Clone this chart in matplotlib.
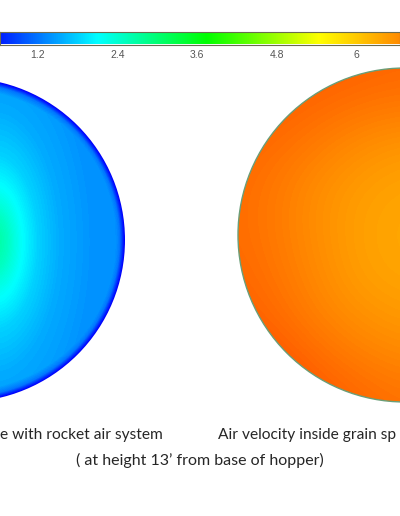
import numpy as np
import matplotlib
matplotlib.use("Agg")
import matplotlib.pyplot as plt
from matplotlib.colors import LinearSegmentedColormap, Normalize
from matplotlib.patches import Circle

# ---- data ----
cmap_vals = [0.0, 0.42, 2.09, 3.74, 5.44, 6.65, 8.0]
cmap_cols = ['#0000a0', '#0000ff', '#00ffff', '#00ff00', '#ffff00', '#ff8c00', '#ff0000']
cbar_ticks = [1.2, 2.4, 3.6, 4.8, 6.0]
cbar_labels = ['1.2', '2.4', '3.6', '4.8', '6']
cbar_view = (0.63, 6.65)

# left plane (rocket air system): glow profile vs elliptical distance from peak
left_glow_d = [0.0, 0.3, 0.6, 1.0, 1.5, 2.2, 4.0]
left_glow_v = [2.75, 2.5, 2.15, 1.8, 1.55, 1.4, 1.32]
left_rim_r = [0.0, 0.968, 0.988, 1.0]
left_rim_v = [9.0, 1.2, 0.65, 0.35]

# right plane: coarse grid of velocities (rows top->bottom, cols left->right)
right_grid = np.array([
    [7.10, 7.10, 7.10, 7.05, 7.00],
    [7.10, 7.05, 6.95, 6.85, 6.80],
    [7.00, 6.90, 6.75, 6.60, 6.50],
    [6.95, 6.80, 6.60, 6.45, 6.38],
    [6.95, 6.80, 6.60, 6.42, 6.35],
    [7.00, 6.85, 6.65, 6.45, 6.38],
    [7.10, 6.95, 6.75, 6.60, 6.50],
    [7.25, 7.15, 6.95, 6.80, 6.70],
    [7.30, 7.30, 7.15, 7.00, 6.90],
])

title_left = "e with rocket air system"
title_right = "Air velocity inside grain sp"
subtitle = "( at height 13\u2019 from base of hopper)"

# ---- figure ----
W, H = 400, 516
fig = plt.figure(figsize=(W / 100, H / 100), dpi=100)
ax = fig.add_axes([0, 0, 1, 1])
ax.set_xlim(0, W)
ax.set_ylim(H, 0)
ax.axis('off')

vmin, vmax = cmap_vals[0], cmap_vals[-1]
cmap = LinearSegmentedColormap.from_list(
    'fluent', [((v - vmin) / (vmax - vmin), c) for v, c in zip(cmap_vals, cmap_cols)])
norm = Normalize(vmin, vmax)

# left circle
lcx, lcy, lR = -37.0, 240.0, 162.0
px, py = -6.0, 242.0
xs = np.arange(0, 140) + 0.5
ys = np.arange(70, 410) + 0.5
X, Y = np.meshgrid(xs, ys)
dp = np.sqrt(((X - px) / 44.0) ** 2 + ((Y - py) / 88.0) ** 2)
V = np.interp(dp, left_glow_d, left_glow_v)
r = np.sqrt((X - lcx) ** 2 + (Y - lcy) ** 2) / lR
V = np.minimum(V, np.interp(r, left_rim_r, left_rim_v))
im1 = ax.imshow(V, extent=[0, 140, 410, 70], cmap=cmap, norm=norm,
                interpolation='bilinear', zorder=1)
c1 = Circle((lcx, lcy), lR, transform=ax.transData, facecolor='none', edgecolor='none')
ax.add_patch(c1)
im1.set_clip_path(c1)

# right circle
rcx, rcy, rR = 405.0, 235.0, 167.0
gx0, gx1 = 238.0, 400.0
gy0, gy1 = 68.0, 402.0
dx = (gx1 - gx0) / (right_grid.shape[1] - 1)
dy = (gy1 - gy0) / (right_grid.shape[0] - 1)
im2 = ax.imshow(right_grid, extent=[gx0 - dx / 2, gx1 + dx / 2, gy1 + dy / 2, gy0 - dy / 2],
                cmap=cmap, norm=norm, interpolation='bicubic', zorder=1)
c2 = Circle((rcx, rcy), rR, transform=ax.transData, facecolor='none', edgecolor='none')
ax.add_patch(c2)
im2.set_clip_path(c2)
ax.add_patch(Circle((rcx, rcy), rR, facecolor='none', edgecolor='#6a9e78', lw=1.0, zorder=3))

# texts
fam = ['Lato', 'DejaVu Sans']
ax.text(0, 439, title_left, fontsize=11.2, family=fam,
        color='#262626', ha='left', va='baseline')
ax.text(218, 439, title_right, fontsize=11.2, family=fam,
        color='#262626', ha='left', va='baseline')
ax.text(200, 465, subtitle, fontsize=11.5, family=fam,
        color='#262626', ha='center', va='baseline')

# colorbar
cax = fig.add_axes([0, 1 - 44.5 / H, 1, 12.5 / H])
grad = np.linspace(vmin, vmax, 1000)[None, :]
cax.imshow(grad, extent=[vmin, vmax, 0, 1], aspect='auto', cmap=cmap, norm=norm,
           interpolation='bilinear')
cax.set_xlim(*cbar_view)
cax.set_ylim(0, 1)
cax.set_yticks([])
cax.set_xticks(cbar_ticks)
cax.set_xticklabels(cbar_labels, fontsize=7.5, color='#555555', family='Liberation Sans')
cax.tick_params(axis='x', length=0, pad=4)
for s in cax.spines.values():
    s.set_edgecolor('#6b6b50')
    s.set_linewidth(0.8)

fig.savefig('out.png', dpi=100)
